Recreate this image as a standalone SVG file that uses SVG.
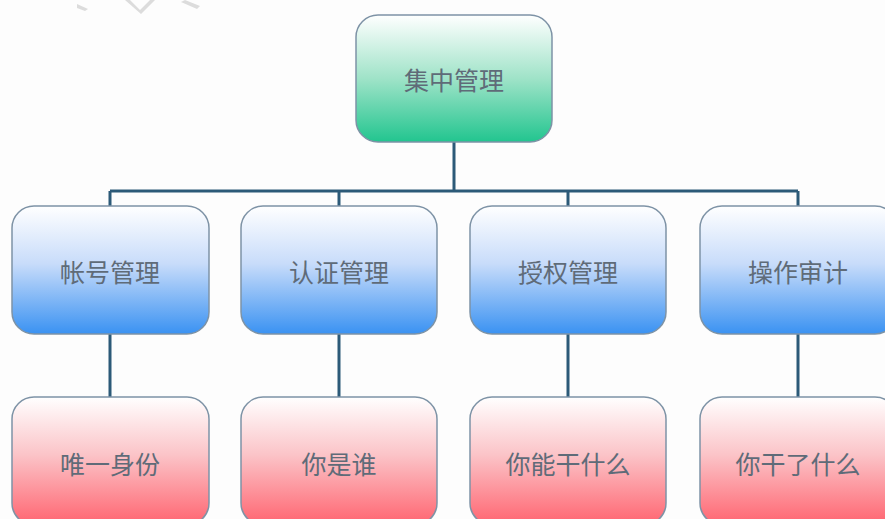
<svg xmlns="http://www.w3.org/2000/svg" width="885" height="519" viewBox="0 0 885 519">
<defs>
<linearGradient id="gGreen" x1="0" y1="0" x2="0" y2="1">
<stop offset="0" stop-color="#ffffff"/>
<stop offset="0.5" stop-color="#9fe3c8"/>
<stop offset="1" stop-color="#22c58f"/>
</linearGradient>
<linearGradient id="gBlue" x1="0" y1="0" x2="0" y2="1">
<stop offset="0" stop-color="#ffffff"/>
<stop offset="0.45" stop-color="#c8dcfa"/>
<stop offset="1" stop-color="#3a92f2"/>
</linearGradient>
<linearGradient id="gRed" x1="0" y1="0" x2="0" y2="1">
<stop offset="0" stop-color="#ffffff"/>
<stop offset="0.45" stop-color="#fbc4c8"/>
<stop offset="1" stop-color="#ff6470"/>
</linearGradient>
</defs>
<style>
.box{stroke:#7e93a6;stroke-width:1.5}
.lbl{font-family:"Noto Sans CJK SC","Noto Sans CJK TC",sans-serif;font-size:25px;fill:#5f6b78;text-anchor:middle;dominant-baseline:central}
.conn{fill:none;stroke:#2c5a78;stroke-width:3}
</style>
<rect width="885" height="519" fill="#fdfdfd"/>
<g id="watermark" fill="#dcdcdc">
<polygon points="77,4 88,9 85,11 77,8"/>
<polygon points="130,0 140,10 150,0 155,0 141,14 125,0"/>
<polygon points="185,0 200,6 197,9 181,2"/>
</g>
<g id="connectors">
<path class="conn" d="M454,142 V191 M110,191 H798 M110,191 V206 M339,191 V206 M568,191 V206 M798,191 V206"/>
<path class="conn" d="M110,334 V397 M339,334 V397 M568,334 V397 M798,334 V397"/>
</g>
<g id="n-root"><rect class="box" x="356" y="15" width="196" height="127" rx="22" fill="url(#gGreen)"/><text class="lbl" x="454" y="79">集中管理</text></g>
<g id="n-account"><rect class="box" x="12" y="206" width="197" height="128" rx="22" fill="url(#gBlue)"/><text class="lbl" x="110" y="271">帐号管理</text></g>
<g id="n-auth"><rect class="box" x="241" y="206" width="196" height="128" rx="22" fill="url(#gBlue)"/><text class="lbl" x="339" y="271">认证管理</text></g>
<g id="n-authz"><rect class="box" x="470" y="206" width="196" height="128" rx="22" fill="url(#gBlue)"/><text class="lbl" x="568" y="271">授权管理</text></g>
<g id="n-audit"><rect class="box" x="700" y="206" width="197" height="128" rx="22" fill="url(#gBlue)"/><text class="lbl" x="798" y="271">操作审计</text></g>
<g id="n-id"><rect class="box" x="12" y="397" width="197" height="128" rx="22" fill="url(#gRed)"/><text class="lbl" x="110" y="463">唯一身份</text></g>
<g id="n-who"><rect class="box" x="241" y="397" width="196" height="128" rx="22" fill="url(#gRed)"/><text class="lbl" x="339" y="463">你是谁</text></g>
<g id="n-what"><rect class="box" x="470" y="397" width="196" height="128" rx="22" fill="url(#gRed)"/><text class="lbl" x="568" y="463">你能干什么</text></g>
<g id="n-did"><rect class="box" x="700" y="397" width="197" height="128" rx="22" fill="url(#gRed)"/><text class="lbl" x="798" y="463">你干了什么</text></g>
</svg>
